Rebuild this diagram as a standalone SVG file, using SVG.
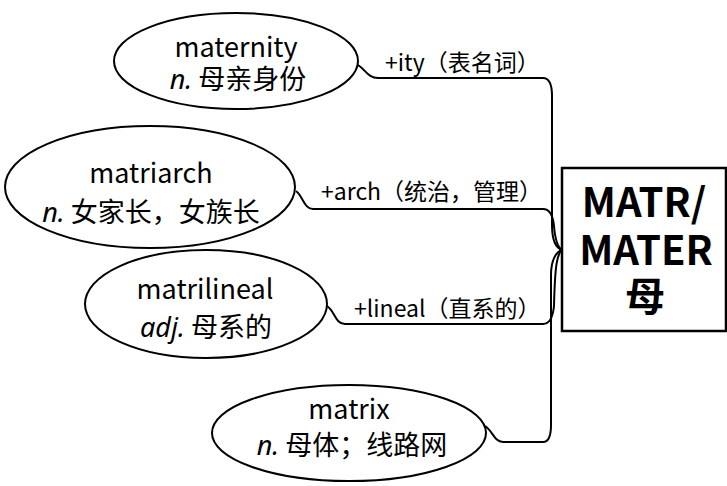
<svg xmlns="http://www.w3.org/2000/svg" width="727" height="486" viewBox="0 0 727 486">
<style>
.n ellipse{fill:#fff;stroke:#000;stroke-width:2}
.t{font-family:"Noto Sans CJK SC","Noto Sans",sans-serif;font-size:27px;fill:#000;text-anchor:middle}
.i{font-family:"Noto Sans","Noto Sans CJK SC",sans-serif;font-style:italic}
.l{font-family:"Noto Sans CJK SC","Noto Sans",sans-serif;font-size:23px;fill:#000}
.c path{fill:none;stroke:#000;stroke-width:2}
.b{font-family:"Noto Sans CJK SC",sans-serif;font-weight:bold;font-size:40px;fill:#000;text-anchor:middle}
</style>
<rect width="727" height="486" fill="#fff"/>
<g id="connectors" class="c">
<path d="M358,65 C366,70 368,78 378,78 L543,78 C550,78 552,86 552,96 L552,225 C552,240 556,248 562,250"/>
<path d="M296,191 C303,196 304,209 313,209 L543,209 C550,209 553,216 554,226 C555,238 557,247 562,250"/>
<path d="M327,306 C335,311 335,324 345,324 L543,324 C550,324 553,316 554,306 C555,265 557,254 562,250"/>
<path d="M485,426 C493,431 494,442 503,442 L543,442 C549,442 551,435 551,425 L551,275 C551,260 556,252 562,250"/>
<text class="l" x="385" y="71">+ity（表名词）</text>
<text class="l" x="321" y="200">+arch（统治，管理）</text>
<text class="l" x="354" y="317">+lineal（直系的）</text>
</g>
<g id="maternity" class="n">
<ellipse cx="236" cy="61" rx="122" ry="48"/>
<text class="t" x="236" y="57">maternity</text>
<text class="t" x="238" y="89"><tspan class="i">n.</tspan> 母亲身份</text>
</g>
<g id="matriarch" class="n">
<ellipse cx="150" cy="187" rx="145" ry="61"/>
<text class="t" x="151" y="183">matriarch</text>
<text class="t" x="151" y="222"><tspan class="i">n.</tspan> 女家长，女族长</text>
</g>
<g id="matrilineal" class="n">
<ellipse cx="206" cy="304" rx="121" ry="54"/>
<text class="t" x="205" y="299">matrilineal</text>
<text class="t" x="206" y="337"><tspan class="i">adj.</tspan> 母系的</text>
</g>
<g id="matrix" class="n">
<ellipse cx="349" cy="433" rx="137" ry="48"/>
<text class="t" x="349" y="419">matrix</text>
<text class="t" x="352" y="455"><tspan class="i">n.</tspan> 母体；线路网</text>
</g>
<g id="root">
<rect x="562" y="168" width="164" height="163" fill="#fff" stroke="#000" stroke-width="2.5"/>
<text class="b" x="644" y="217">MATR/</text>
<text class="b" x="646" y="265">MATER</text>
<text class="b" x="645" y="311" font-size="38">母</text>
</g>
</svg>
